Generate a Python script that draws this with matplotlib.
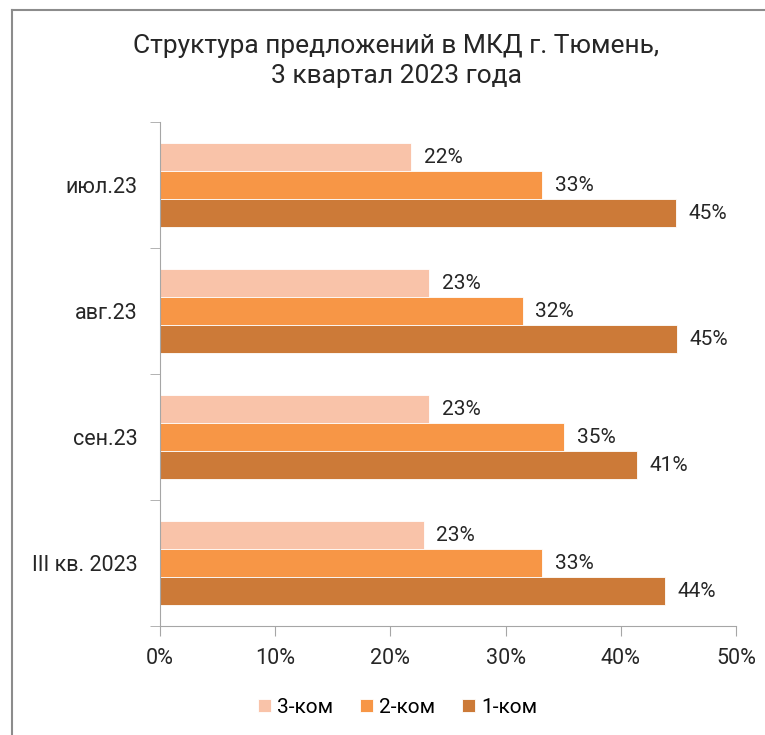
import numpy as np
import matplotlib.pyplot as plt
from matplotlib.ticker import FixedLocator, PercentFormatter
from matplotlib.lines import Line2D

plt.rcParams['font.family'] = ['Roboto', 'DejaVu Sans']

categories = ['июл.23', 'авг.23', 'сен.23', 'III кв. 2023']
series_names = ['3-ком', '2-ком', '1-ком']
values_3k = [21.8, 23.4, 23.4, 22.9]
values_2k = [33.2, 31.5, 35.1, 33.2]
values_1k = [44.8, 44.9, 41.4, 43.8]
colors = ['#F9C3A9', '#F79646', '#CC7A38']

title = 'Структура предложений в МКД г. Тюмень,\n3 квартал 2023 года'

fig = plt.figure(figsize=(7.65, 7.35), dpi=100)
ax = fig.add_axes([0.209, 0.148, 0.753, 0.686])

# frame lines (top and left only, as in the reference)
fig.add_artist(Line2D([0.016, 1.0], [0.986, 0.986], color='#8C8C8C', lw=1.5, transform=fig.transFigure))
fig.add_artist(Line2D([0.016, 0.016], [0.0, 0.986], color='#8C8C8C', lw=1.5, transform=fig.transFigure))

y = np.arange(len(categories))
h = 0.222
for i, (vals, name, c) in enumerate(zip([values_3k, values_2k, values_1k], series_names, colors)):
    pos = y + (i - 1) * h
    ax.barh(pos, vals, height=h, color=c, edgecolor='white', linewidth=0.6, label=name)
    for p, v in zip(pos, vals):
        ax.text(v + 1.1, p, f'{v:.0f}%', va='center', ha='left', fontsize=15, color='#262626')

ax.set_xlim(0, 50)
ax.set_ylim(len(categories) - 0.5, -0.5)
ax.set_xticks(np.arange(0, 51, 10))
ax.xaxis.set_major_formatter(PercentFormatter(decimals=0))
ax.set_yticks(y)
ax.set_yticklabels(categories)
ax.yaxis.set_minor_locator(FixedLocator(np.arange(-0.5, len(categories), 1)))
ax.tick_params(axis='y', which='major', length=0, pad=16, labelsize=15.5, labelcolor='#262626')
ax.tick_params(axis='y', which='minor', length=7, color='#A6A6A6')
ax.tick_params(axis='x', length=7, color='#A6A6A6', labelsize=15.5, labelcolor='#262626', pad=9)

for s in ['top', 'right']:
    ax.spines[s].set_visible(False)
for s in ['left', 'bottom']:
    ax.spines[s].set_color('#A6A6A6')

fig.text(0.518, 0.917, title, ha='center', va='center', fontsize=19, color='#262626', linespacing=1.3)

fig.legend(loc='center', bbox_to_anchor=(0.52, 0.038), ncol=3, frameon=False, fontsize=15,
           handlelength=0.6, handleheight=0.6, handletextpad=0.3, columnspacing=1.3)

fig.savefig('out.png', dpi=100)
